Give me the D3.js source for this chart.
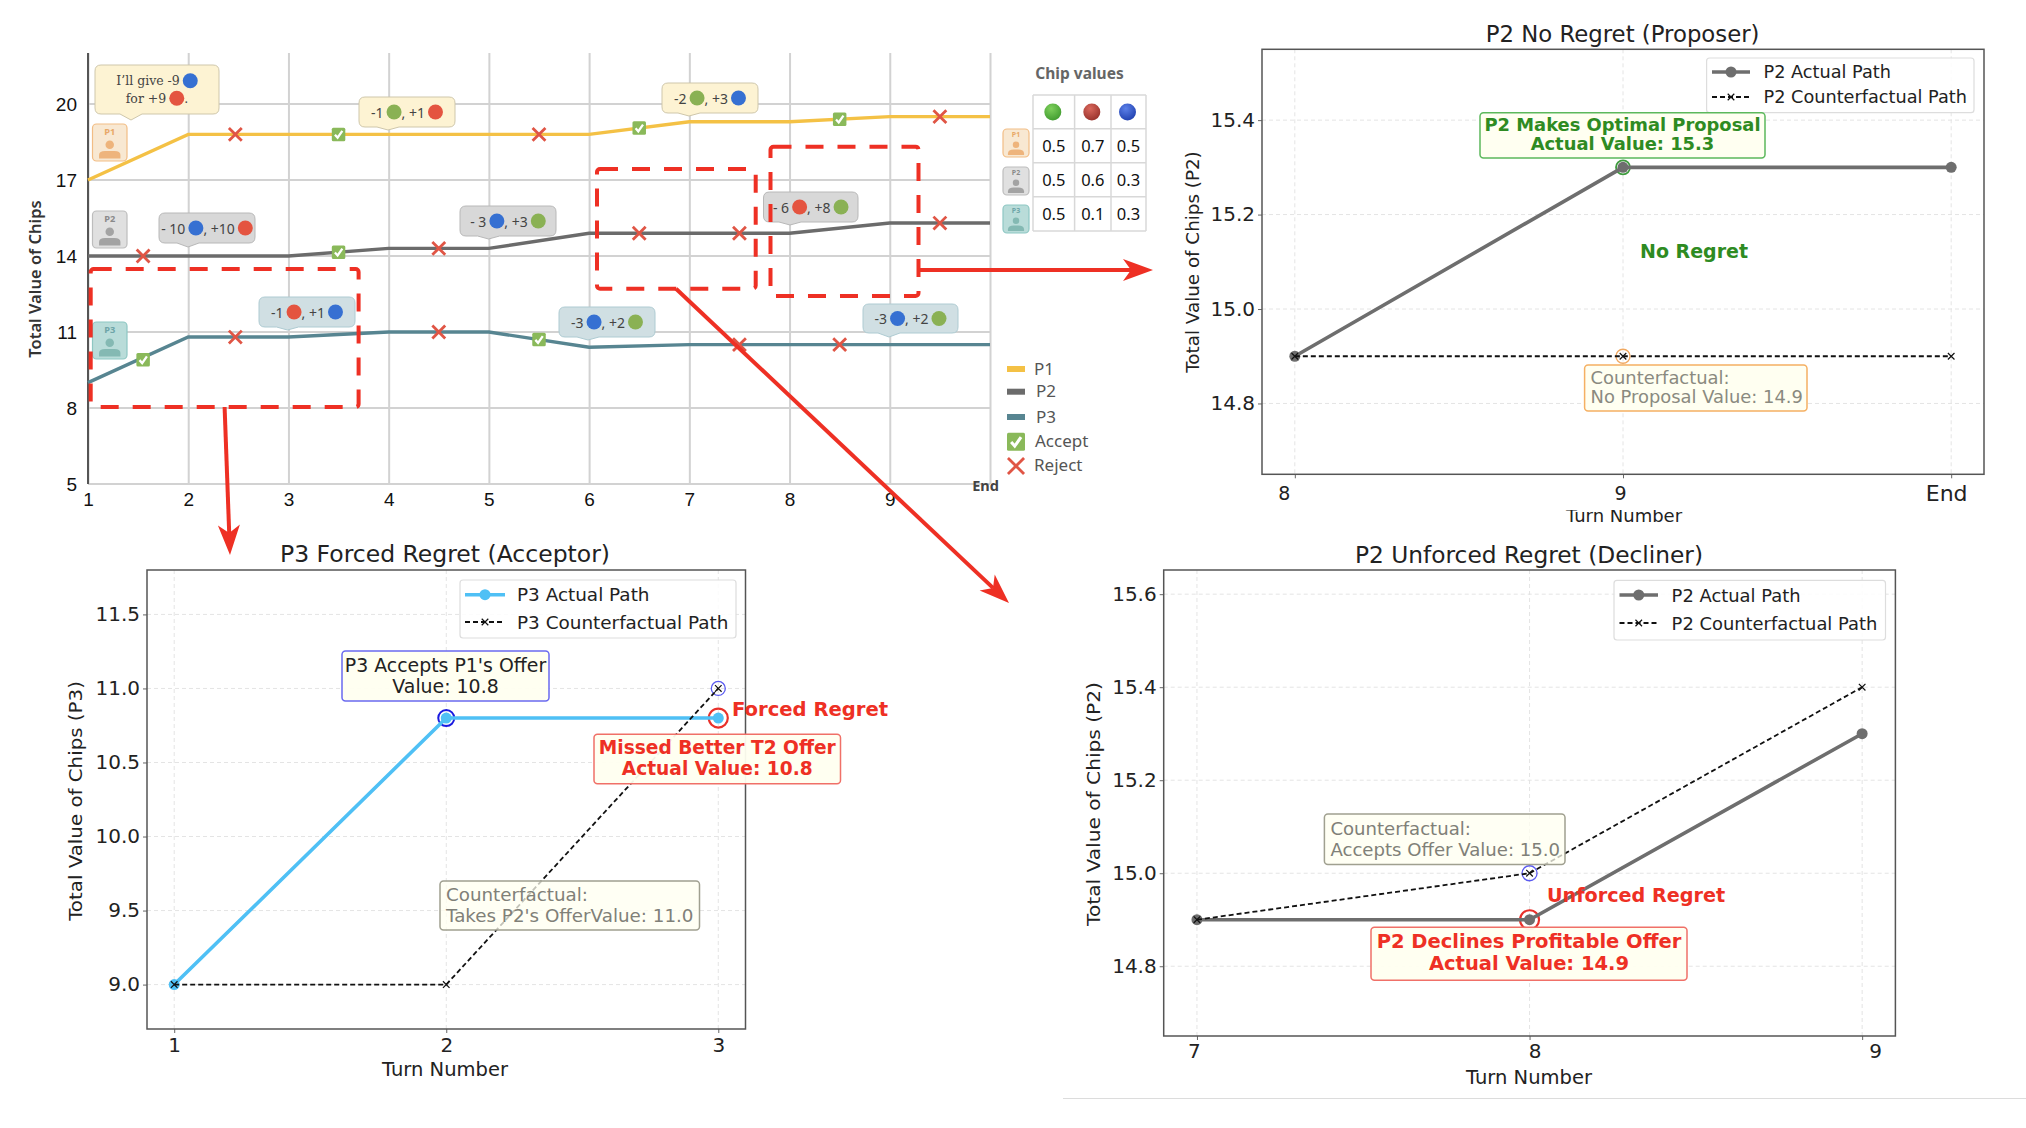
<!DOCTYPE html>
<html>
<head>
<meta charset="utf-8">
<title>Regret chart</title>
<script src="https://cdn.jsdelivr.net/npm/d3@7"></script>
<style>
  html, body { margin: 0; padding: 0; background: #fff; }
  svg { display: block; }
  text { white-space: pre; }
</style>
</head>
<body>
<div id="chart"></div>
<script>
// main chart
const turns = [1, 2, 3, 4, 5, 6, 7, 8, 9, 10];
const turnLabels = ['1', '2', '3', '4', '5', '6', '7', '8', '9', 'End'];
const valueTicks = [5, 8, 11, 14, 17, 20];
const p1Values = [17, 18.8, 18.8, 18.8, 18.8, 18.8, 19.3, 19.3, 19.5, 19.5];
const p2Values = [14, 14, 14, 14.3, 14.3, 14.9, 14.9, 14.9, 15.3, 15.3];
const p3Values = [9, 10.8, 10.8, 11, 11, 10.4, 10.5, 10.5, 10.5, 10.5];
const acceptTurns = [1.55, 3.5, 3.5, 5.5, 6.5, 8.5];
const acceptValues = [9.9, 18.8, 14.15, 10.7, 19.05, 19.4];
const rejectTurns = [1.55, 2.47, 2.47, 4.5, 4.5, 5.5, 6.5, 7.5, 7.5, 8.5, 9.5, 9.5];
const rejectValues = [14, 18.8, 10.8, 14.3, 11, 18.8, 14.9, 14.9, 10.5, 10.5, 19.5, 15.3];

// chip table
const chipPlayers = ['P1', 'P2', 'P3'];
const chipRows = [
  ['0.5', '0.7', '0.5'],
  ['0.5', '0.6', '0.3'],
  ['0.5', '0.1', '0.3']
];

// offers shown in the speech bubbles, g r b = chip
const offerTexts = [
  [['I’ll give -9', 'b'], ['for +9', 'r', '.']],
  [['-1', 'g', ', +1', 'r']],
  [['- 10', 'b', ', +10', 'r']],
  [['- 3', 'b', ', +3', 'g']],
  [['-1', 'r', ', +1', 'b']],
  [['-3', 'b', ', +2', 'g']],
  [['-2', 'g', ', +3', 'b']],
  [['- 6', 'r', ', +8', 'g']],
  [['-3', 'b', ', +2', 'g']]
];

// zoomed panels
const forcedTurns = [1, 2, 3];
const forcedActual = [9, 10.8, 10.8];
const forcedCounter = [9, 9, 11];
const forcedYTicks = [9, 9.5, 10, 10.5, 11, 11.5];

const noRegretTurns = [8, 9, 10];
const noRegretLabels = ['8', '9', 'End'];
const noRegretActual = [14.9, 15.3, 15.3];
const noRegretCounter = [14.9, 14.9, 14.9];
const noRegretYTicks = [14.8, 15, 15.2, 15.4];

const unforcedTurns = [7, 8, 9];
const unforcedActual = [14.9, 14.9, 15.3];
const unforcedCounter = [14.9, 15, 15.4];
const unforcedYTicks = [14.8, 15, 15.2, 15.4, 15.6];

const RED = '#ee3024';
const SANS = '"Noto Sans", sans-serif';
const DEJA = '"DejaVu Sans", sans-serif';
const chipFill = { g: '#8ab154', r: '#e45440', b: '#3670d2' };

const svg = d3.select('#chart').append('svg')
  .attr('width', 2026).attr('height', 1128)
  .attr('viewBox', '0 0 2026 1128');

const defs = svg.append('defs');
[['tg', '#7ed05c', '#3f9a2e'], ['tr', '#d9675c', '#96302a'], ['tb', '#5c80e8', '#1f3fae']].forEach(c => {
  const g = defs.append('radialGradient').attr('id', c[0]).attr('cx', '40%').attr('cy', '30%').attr('r', '75%');
  g.append('stop').attr('offset', '0%').attr('stop-color', c[1]);
  g.append('stop').attr('offset', '100%').attr('stop-color', c[2]);
});

const playerStyle = {
  P1: { fill: '#f8e8d2', stroke: '#f2bd85', ink: '#eeb47c', text: '#e8a868' },
  P2: { fill: '#e0e0e0', stroke: '#bdbdbd', ink: '#a3a3a3', text: '#8a8a8a' },
  P3: { fill: '#b9dcd9', stroke: '#8ec7c3', ink: '#84b9b3', text: '#6ea5a8' }
};

function badge(x0, y0, x1, y1, name) {
  const st = playerStyle[name];
  const w = x1 - x0, h = y1 - y0, cx = (x0 + x1) / 2;
  const g = svg.append('g');
  g.append('rect').attr('x', x0).attr('y', y0).attr('width', w).attr('height', h).attr('rx', 4)
    .attr('fill', st.fill).attr('stroke', st.stroke).attr('stroke-width', 1.2);
  g.append('text').attr('x', cx).attr('y', y0 + h * 0.29).attr('text-anchor', 'middle')
    .attr('font-family', SANS).attr('font-weight', 700).attr('font-size', h * 0.25)
    .attr('fill', st.text).text(name);
  g.append('circle').attr('cx', cx).attr('cy', y0 + h * 0.56).attr('r', h * 0.115).attr('fill', st.ink);
  const sw = w * 0.31, top = y0 + h * 0.73, bot = y0 + h * 0.93;
  g.append('path').attr('fill', st.ink)
    .attr('d', `M${cx - sw},${bot}V${top + 4}Q${cx - sw},${top} ${cx - sw + 6},${top}H${cx + sw - 6}Q${cx + sw},${top} ${cx + sw},${top + 4}V${bot}Z`);
}

function acceptIcon(parent, x, y, s) {
  const g = parent.append('g').attr('transform', `translate(${x},${y})`);
  g.append('rect').attr('x', -s / 2).attr('y', -s / 2).attr('width', s).attr('height', s).attr('rx', 1.5).attr('fill', '#8ab95a');
  g.append('path').attr('fill', 'none').attr('stroke', '#fff').attr('stroke-width', s * 0.17)
    .attr('d', `M${-s * 0.27},${s * 0.02}L${-s * 0.07},${s * 0.24}L${s * 0.28},${-s * 0.26}`);
}

function rejectIcon(parent, x, y, size) {
  parent.append('path')
    .attr('transform', `translate(${x},${y})`)
    .attr('d', d3.symbol(d3.symbolTimes, size)())
    .attr('fill', 'none').attr('stroke', '#e05545').attr('stroke-width', 2.8);
}

// ---- main chart ----
const x = d3.scaleLinear().domain([1, 10]).range([88, 990]);
const y = d3.scaleLinear().domain([5, 20]).range([484, 104]);
const yTopPx = 53;

const main = svg.append('g').attr('class', 'main');

main.append('g').attr('transform', `translate(0,${y(5)})`)
  .call(d3.axisBottom(x).tickValues(turns).tickSize(y(5) - yTopPx).tickFormat(''))
  .call(g => g.select('.domain').remove())
  .call(g => g.selectAll('line').attr('y2', -(y(5) - yTopPx)).attr('stroke', '#d2d2d2').attr('stroke-width', 2));

main.append('g').attr('transform', `translate(${x(1)},0)`)
  .call(d3.axisLeft(y).tickValues(valueTicks).tickSize(0).tickPadding(11))
  .call(g => g.select('.domain').remove())
  .call(g => g.selectAll('text').attr('font-family', '"Liberation Sans", sans-serif').attr('font-size', 19).attr('fill', '#111'));

main.append('g').selectAll('line').data(valueTicks).join('line')
  .attr('x1', x(1)).attr('x2', x(10))
  .attr('y1', d => y(d)).attr('y2', d => y(d))
  .attr('stroke', '#d2d2d2').attr('stroke-width', 2);

main.append('line').attr('x1', x(1)).attr('x2', x(1)).attr('y1', yTopPx).attr('y2', y(5))
  .attr('stroke', '#555').attr('stroke-width', 2);

main.append('g').attr('transform', `translate(0,${y(5)})`)
  .call(d3.axisBottom(x).tickValues(turns).tickSize(0).tickPadding(9)
    .tickFormat((d, i) => turnLabels[i]))
  .call(g => g.select('.domain').remove())
  .call(g => g.selectAll('text').attr('font-family', '"Liberation Sans", sans-serif').attr('font-size', 19).attr('fill', '#111'))
  .call(g => g.selectAll('.tick:last-child text')
    .attr('font-family', SANS).attr('font-weight', 700).attr('font-size', 14.5).attr('fill', '#444').attr('dx', -5).attr('dy', -2));

main.append('text')
  .attr('transform', 'translate(37,279) rotate(-90)')
  .attr('text-anchor', 'middle').attr('dominant-baseline', 'middle')
  .attr('font-family', SANS).attr('font-weight', 600).attr('font-size', 16.5).attr('fill', '#333')
  .text('Total Value of Chips');

const line = d3.line().x((d, i) => x(turns[i])).y(d => y(d));
[[p1Values, '#f4c145'], [p2Values, '#6b6b6b'], [p3Values, '#578591']].forEach(s => {
  main.append('path').datum(s[0]).attr('d', line)
    .attr('fill', 'none').attr('stroke', s[1]).attr('stroke-width', 3.4);
});

acceptTurns.forEach((t, i) => acceptIcon(main, x(t), y(acceptValues[i]), 13.5));
rejectTurns.forEach((t, i) => rejectIcon(main, x(t), y(rejectValues[i]), 110));

// speech bubbles
const bubbleBoxes = [
  [95, 65, 219, 114, 131, 120, 'P1'],
  [359, 97, 455, 127, 388, 130, 'P1'],
  [159, 213, 255, 243, 188, 247, 'P2'],
  [460, 206, 556, 236, 488.6, 239, 'P2'],
  [259, 297, 355, 327, 287.5, 330, 'P3'],
  [559, 307, 655, 337, 588, 340, 'P3'],
  [662, 83, 758, 113, 689, 116, 'P1'],
  [763.5, 192, 858, 222, 790, 225, 'P2'],
  [863, 304, 958, 333, 889, 337, 'P3']
];
const bubbleStyle = {
  P1: ['#fdf3d3', '#cfc7ab'],
  P2: ['#d8d8d8', '#b8b8b8'],
  P3: ['#d0dfe3', '#aecbd2']
};

function bubble(box, rows, serif) {
  const [x0, y0, x1, y1, tx, ty, who] = box;
  const r = 6;
  const g = svg.append('g');
  g.append('path')
    .attr('fill', bubbleStyle[who][0]).attr('stroke', bubbleStyle[who][1]).attr('stroke-width', 1)
    .attr('d', `M${x0 + r},${y0}H${x1 - r}Q${x1},${y0} ${x1},${y0 + r}V${y1 - r}Q${x1},${y1} ${x1 - r},${y1}` +
      `H${tx + 11}L${tx},${ty}L${tx - 11},${y1}H${x0 + r}Q${x0},${y1} ${x0},${y1 - r}V${y0 + r}Q${x0},${y0} ${x0 + r},${y0}Z`);
  const rowH = 17.5;
  const cx = (x0 + x1) / 2, cy = (y0 + y1) / 2;
  rows.forEach((parts, ri) => {
    const rowY = cy + (ri - (rows.length - 1) / 2) * rowH;
    const row = g.append('g');
    let pen = 0;
    parts.forEach((p, pi) => {
      if (chipFill[p]) {
        row.append('circle').attr('cx', pen + 7.5).attr('cy', 0).attr('r', 7.5).attr('fill', chipFill[p]);
        pen += 15;
      } else {
        const t = row.append('text').attr('x', pen).attr('y', 0).attr('dominant-baseline', 'central')
          .attr('font-family', serif ? '"DejaVu Serif", serif' : SANS)
          .attr('font-size', serif ? 12.5 : 14).attr('fill', '#444').text(p);
        pen += t.node().getComputedTextLength();
      }
      if (pi < parts.length - 1 && !(parts[pi + 1] + '').startsWith(',') && parts[pi + 1] !== '.') pen += 3;
    });
    row.attr('transform', `translate(${cx - pen / 2},${rowY})`);
  });
}
offerTexts.forEach((rows, i) => bubble(bubbleBoxes[i], rows, i === 0));

badge(92.5, 124, 127, 161, 'P1');
badge(92.5, 211, 127, 248, 'P2');
badge(92.5, 322, 127, 359, 'P3');

// ---- chip table ----
const colEdges = [1033, 1074.6, 1111, 1146];
const rowEdges = [95, 128.7, 162.7, 196.7, 231];
const table = svg.append('g');
table.append('text').attr('x', 1079.5).attr('y', 75).attr('text-anchor', 'middle')
  .attr('dominant-baseline', 'middle').attr('font-family', SANS).attr('font-weight', 700)
  .attr('font-size', 15.5).attr('fill', '#666').text('Chip values');
colEdges.forEach(c => table.append('line').attr('x1', c).attr('x2', c).attr('y1', rowEdges[0]).attr('y2', rowEdges[4])
  .attr('stroke', '#d8d8d8').attr('stroke-width', 1.5));
rowEdges.forEach(r => table.append('line').attr('y1', r).attr('y2', r).attr('x1', colEdges[0]).attr('x2', colEdges[3])
  .attr('stroke', '#d8d8d8').attr('stroke-width', 1.5));
['tg', 'tr', 'tb'].forEach((id, i) => {
  table.append('circle').attr('cx', (colEdges[i] + colEdges[i + 1]) / 2 - 1).attr('cy', 112).attr('r', 8.5)
    .attr('fill', `url(#${id})`);
});
chipRows.forEach((row, ri) => {
  row.forEach((v, ci) => {
    table.append('text')
      .attr('x', (colEdges[ci] + colEdges[ci + 1]) / 2).attr('y', (rowEdges[ri + 1] + rowEdges[ri + 2]) / 2)
      .attr('text-anchor', 'middle').attr('dominant-baseline', 'central')
      .attr('font-family', SANS).attr('font-size', 16.5).attr('fill', '#111').text(v);
  });
  const yb = [129, 167, 205][ri];
  badge(1003, yb, 1029, yb + 28, chipPlayers[ri]);
});

// ---- main legend ----
const legend = svg.append('g');
[['P1', '#f4c145', 369], ['P2', '#6b6b6b', 391.7], ['P3', '#578591', 417]].forEach(d => {
  legend.append('rect').attr('x', 1007).attr('y', d[2] - 3).attr('width', 18).attr('height', 6).attr('fill', d[1]);
  legend.append('text').attr('x', d[0] === 'P1' ? 1034 : 1036).attr('y', d[2] - 1).attr('dominant-baseline', 'central')
    .attr('font-family', SANS).attr('font-size', 17).attr('fill', '#555').text(d[0]);
});
acceptIcon(legend, 1016, 441.7, 18);
rejectIcon(legend, 1016, 466, 170);
legend.append('text').attr('x', 1035).attr('y', 440).attr('dominant-baseline', 'central')
  .attr('font-family', SANS).attr('font-size', 17).attr('fill', '#555').text('Accept');
legend.append('text').attr('x', 1034).attr('y', 464).attr('dominant-baseline', 'central')
  .attr('font-family', SANS).attr('font-size', 17).attr('fill', '#555').text('Reject');

// ---- panels ----
function panel(o) {
  const g = svg.append('g');
  const px = d3.scaleLinear().domain(o.xDomain).range([o.left, o.right]);
  const py = d3.scaleLinear().domain(o.yDomain).range([o.bottom, o.top]);

  g.append('g').selectAll('line').data(o.turns).join('line')
    .attr('x1', d => px(d)).attr('x2', d => px(d)).attr('y1', o.top).attr('y2', o.bottom)
    .attr('stroke', '#e4e4e4').attr('stroke-dasharray', '4 3');
  g.append('g').selectAll('line').data(o.yTicks).join('line')
    .attr('x1', o.left).attr('x2', o.right).attr('y1', d => py(d)).attr('y2', d => py(d))
    .attr('stroke', '#e4e4e4').attr('stroke-dasharray', '4 3');

  g.append('g').attr('transform', `translate(${o.left},0)`)
    .call(d3.axisLeft(py).tickValues(o.yTicks).tickSize(4).tickPadding(3).tickFormat(d3.format('.1f')))
    .call(a => a.select('.domain').remove())
    .call(a => a.selectAll('line').attr('stroke', '#666'))
    .call(a => a.selectAll('text').attr('font-family', DEJA).attr('font-size', 20).attr('fill', '#222'));

  g.append('g').attr('transform', `translate(0,${o.bottom})`)
    .call(d3.axisBottom(px).tickValues(o.turns).tickSize(4).tickFormat((d, i) => o.labels[i]))
    .call(a => a.select('.domain').remove())
    .call(a => a.selectAll('line').attr('stroke', '#666'))
    .call(a => a.selectAll('text')
      .attr('font-family', DEJA).attr('font-size', (d, i) => o.labelSize ? o.labelSize[i] : 20).attr('fill', '#222')
      .attr('dx', (d, i) => o.labelDx[i]).attr('y', o.labelY).attr('dy', 0)
      .attr('dominant-baseline', 'central'));

  g.append('rect').attr('x', o.left).attr('y', o.top).attr('width', o.right - o.left).attr('height', o.bottom - o.top)
    .attr('fill', 'none').attr('stroke', '#555').attr('stroke-width', 1.5);

  g.append('text').attr('x', o.titleX).attr('y', o.titleY).attr('text-anchor', 'middle')
    .attr('dominant-baseline', 'central').attr('font-family', DEJA).attr('font-size', o.titleSize).attr('fill', '#222').text(o.title);

  g.append('text').attr('x', o.xLabelX).attr('y', o.xLabelY).attr('text-anchor', 'middle')
    .attr('dominant-baseline', 'central').attr('font-family', DEJA).attr('font-size', o.xLabelSize || 19.5).attr('fill', '#222').text('Turn Number');
  // top of the label is cut off in this panel
  if (o.xLabelCut) {
    g.append('rect').attr('x', o.xLabelX - 90).attr('y', o.xLabelCut - 5).attr('width', 180).attr('height', 5).attr('fill', '#fff');
  }

  g.append('text').attr('transform', `translate(${o.yLabelX},${o.yLabelY}) rotate(-90) scale(${o.yLabelStretch},1)`)
    .attr('text-anchor', 'middle').attr('dominant-baseline', 'central')
    .attr('font-family', DEJA).attr('font-size', 16.8).attr('fill', '#222').text(o.yLabel);

  const ln = vals => d3.line().x((d, i) => px(o.turns[i])).y(d => py(d))(vals);

  // rings behind the path markers
  o.rings.forEach(r => {
    g.append('circle').attr('cx', px(r.turn)).attr('cy', py(r.value)).attr('r', r.r)
      .attr('fill', 'none').attr('stroke', r.color).attr('stroke-width', r.w);
  });

  g.append('path').attr('d', ln(o.actual)).attr('fill', 'none').attr('stroke', o.color).attr('stroke-width', 3.6);
  g.append('g').selectAll('circle').data(o.actual).join('circle')
    .attr('cx', (d, i) => px(o.turns[i])).attr('cy', d => py(d)).attr('r', 5.5).attr('fill', o.color);
  g.append('path').attr('d', ln(o.counter)).attr('fill', 'none').attr('stroke', '#111')
    .attr('stroke-width', 1.8).attr('stroke-dasharray', '5 3');
  g.append('g').selectAll('path').data(o.counter).join('path')
    .attr('transform', (d, i) => `translate(${px(o.turns[i])},${py(d)})`)
    .attr('d', d3.symbol(d3.symbolTimes, 30)())
    .attr('fill', 'none').attr('stroke', '#111').attr('stroke-width', 1.2);

  // legend
  const [lx0, ly0, lx1, ly1] = o.legendBox;
  g.append('rect').attr('x', lx0).attr('y', ly0).attr('width', lx1 - lx0).attr('height', ly1 - ly0).attr('rx', 3)
    .attr('fill', '#fff').attr('fill-opacity', 0.85).attr('stroke', '#ddd').attr('stroke-width', 1.2);
  const [s0, s1, tx, r0, r1] = o.legendRows;
  g.append('line').attr('x1', s0).attr('x2', s1).attr('y1', r0).attr('y2', r0).attr('stroke', o.color).attr('stroke-width', 3.6);
  g.append('circle').attr('cx', (s0 + s1) / 2).attr('cy', r0).attr('r', 5.5).attr('fill', o.color);
  g.append('line').attr('x1', s0).attr('x2', s1).attr('y1', r1).attr('y2', r1).attr('stroke', '#111')
    .attr('stroke-width', 1.8).attr('stroke-dasharray', '5 3');
  g.append('path').attr('transform', `translate(${(s0 + s1) / 2},${r1})`).attr('d', d3.symbol(d3.symbolTimes, 30)())
    .attr('fill', 'none').attr('stroke', '#111').attr('stroke-width', 1.2);
  [[o.name + ' Actual Path', r0], [o.name + ' Counterfactual Path', r1]].forEach(d => {
    g.append('text').attr('x', tx).attr('y', d[1]).attr('dominant-baseline', 'central')
      .attr('font-family', DEJA).attr('font-size', o.legendSize).attr('fill', '#222').text(d[0]);
  });

  // annotation boxes
  o.notes.forEach(n => {
    const [x0, y0, x1, y1] = n.box;
    g.append('rect').attr('x', x0).attr('y', y0).attr('width', x1 - x0).attr('height', y1 - y0).attr('rx', 3.5)
      .attr('fill', '#fffff0').attr('fill-opacity', n.alpha || 0.95).attr('stroke', n.stroke).attr('stroke-width', 1.5);
    n.lines.forEach((t, i) => {
      g.append('text').attr('x', n.left ? x0 + 6 : (x0 + x1) / 2).attr('y', n.ys[i])
        .attr('text-anchor', n.left ? 'start' : 'middle').attr('dominant-baseline', 'central')
        .attr('font-family', DEJA).attr('font-size', n.size).attr('font-weight', n.bold ? 700 : 400)
        .attr('fill', n.color).text(t);
    });
  });
  o.tags.forEach(t => {
    g.append('text').attr('x', t.x).attr('y', t.y).attr('dominant-baseline', 'central')
      .attr('font-family', DEJA).attr('font-weight', 700).attr('font-size', t.size).attr('fill', t.color).text(t.text);
  });
}

panel({
  name: 'P3', title: 'P3 Forced Regret (Acceptor)', titleX: 445, titleY: 553.6, titleSize: 23.5,
  left: 147, right: 745.5, top: 570, bottom: 1029,
  xDomain: [0.9, 3.1], yDomain: [8.7, 11.8],
  turns: forcedTurns, labels: ['1', '2', '3'], labelDx: [0, 0, 0], labelY: 16,
  yTicks: forcedYTicks, actual: forcedActual, counter: forcedCounter, color: '#4fc0f5',
  xLabelX: 445, xLabelY: 1069.8, yLabel: 'Total Value of Chips (P3)', yLabelX: 76, yLabelY: 801, yLabelStretch: 1.18,
  legendBox: [460, 580, 736, 638], legendRows: [465, 505, 517, 594.7, 622], legendSize: 18.4,
  rings: [
    { turn: 2, value: 10.8, r: 8, color: '#1a1ae0', w: 2 },
    { turn: 3, value: 10.8, r: 9.5, color: '#e8302a', w: 2.2 },
    { turn: 3, value: 11, r: 7, color: '#5a5af0', w: 1.3 }
  ],
  notes: [
    { box: [342, 651, 549, 701], stroke: '#6a6af0', color: '#222', size: 18.9, lines: ["P3 Accepts P1's Offer", 'Value: 10.8'], ys: [665, 685.6] },
    { box: [594, 734.3, 840.5, 783.7], stroke: '#f07068', color: RED, size: 18.6, bold: true, lines: ['Missed Better T2 Offer', 'Actual Value: 10.8'], ys: [747.4, 768] },
    { box: [440, 881, 699.5, 930], stroke: '#a0a090', color: '#808078', size: 18.3, left: true, alpha: 0.75, lines: ['Counterfactual:', "Takes P2's OfferValue: 11.0"], ys: [894.6, 915.3] }
  ],
  tags: [{ x: 732, y: 709, color: RED, text: 'Forced Regret', size: 19.6 }]
});

panel({
  name: 'P2', title: 'P2 No Regret (Proposer)', titleX: 1622.6, titleY: 34, titleSize: 22.8,
  left: 1262, right: 1984, top: 49.3, bottom: 474.3,
  xDomain: [7.9, 10.1], yDomain: [14.65, 15.55],
  turns: noRegretTurns, labels: noRegretLabels, labelDx: [-11, -3, -5], labelY: 19, labelSize: [19, 19, 22],
  yTicks: noRegretYTicks, actual: noRegretActual, counter: noRegretCounter, color: '#6e6e6e',
  xLabelX: 1624, xLabelY: 515, xLabelSize: 18, xLabelCut: 510, yLabel: 'Total Value of Chips (P2)', yLabelX: 1193, yLabelY: 262, yLabelStretch: 1.09,
  legendBox: [1706.6, 58, 1974, 112.7], legendRows: [1712, 1750, 1763.5, 72, 97], legendSize: 17.7,
  rings: [
    { turn: 9, value: 15.3, r: 7, color: '#3e9a3e', w: 1.8 },
    { turn: 9, value: 14.9, r: 7, color: '#f0a860', w: 1.4 }
  ],
  notes: [
    { box: [1480, 112.7, 1765, 158], stroke: '#5cb85c', color: '#2e8b22', size: 17.9, bold: true, lines: ['P2 Makes Optimal Proposal', 'Actual Value: 15.3'], ys: [124.5, 143.5] },
    { box: [1584.6, 365, 1807, 411], stroke: '#f5b063', color: '#8a8a80', size: 17.9, left: true, lines: ['Counterfactual:', 'No Proposal Value: 14.9'], ys: [377.7, 396.7] }
  ],
  tags: [{ x: 1640, y: 251, color: '#2e8b22', text: 'No Regret', size: 19 }]
});

panel({
  name: 'P2', title: 'P2 Unforced Regret (Decliner)', titleX: 1529, titleY: 554, titleSize: 23.3,
  left: 1163.7, right: 1895.4, top: 570, bottom: 1036,
  xDomain: [6.9, 9.1], yDomain: [14.65, 15.652],
  turns: unforcedTurns, labels: ['7', '8', '9'], labelDx: [-3, 5, 13], labelY: 15,
  yTicks: unforcedYTicks, actual: unforcedActual, counter: unforcedCounter, color: '#6e6e6e',
  xLabelX: 1529, xLabelY: 1077.4, yLabel: 'Total Value of Chips (P2)', yLabelX: 1094, yLabelY: 804, yLabelStretch: 1.2,
  legendBox: [1614, 580.4, 1885.5, 640], legendRows: [1619.5, 1658, 1671.6, 595, 623], legendSize: 17.9,
  rings: [
    { turn: 8, value: 15, r: 7.5, color: '#5a5af0', w: 1.3 },
    { turn: 8, value: 14.9, r: 9.5, color: '#e8302a', w: 2.2 }
  ],
  notes: [
    { box: [1324.4, 814, 1565, 864.5], stroke: '#a0a090', color: '#808078', size: 18.1, left: true, alpha: 0.75, lines: ['Counterfactual:', 'Accepts Offer Value: 15.0'], ys: [828.3, 849.4] },
    { box: [1371, 927.3, 1687, 980.3], stroke: '#f07068', color: RED, size: 19.5, bold: true, lines: ['P2 Declines Profitable Offer', 'Actual Value: 14.9'], ys: [941.2, 963.4] }
  ],
  tags: [{ x: 1547, y: 895, color: RED, text: 'Unforced Regret', size: 19.2 }]
});

svg.append('line').attr('x1', 1063).attr('x2', 2026).attr('y1', 1098.5).attr('y2', 1098.5)
  .attr('stroke', '#dcdcdc').attr('stroke-width', 1.2);

// ---- red callouts ----
const callouts = svg.append('g');
[[90.7, 269, 358.6, 407], [597, 169, 755.7, 288.7], [770.5, 146.7, 918.5, 296]].forEach(r => {
  callouts.append('rect').attr('x', r[0]).attr('y', r[1]).attr('width', r[2] - r[0]).attr('height', r[3] - r[1]).attr('rx', 3)
    .attr('fill', 'none').attr('stroke', RED).attr('stroke-width', 4).attr('stroke-dasharray', '18 14');
});

function arrow(x1, y1, x2, y2) {
  const a = Math.atan2(y2 - y1, x2 - x1);
  const len = 30, half = 11, notch = 22;
  const bx = x2 - notch * Math.cos(a), by = y2 - notch * Math.sin(a);
  callouts.append('line').attr('x1', x1).attr('y1', y1).attr('x2', bx).attr('y2', by)
    .attr('stroke', RED).attr('stroke-width', 4);
  const cx = x2 - len * Math.cos(a), cy = y2 - len * Math.sin(a);
  const nx = -Math.sin(a) * half, ny = Math.cos(a) * half;
  callouts.append('path').attr('fill', RED)
    .attr('d', `M${x2},${y2}L${cx + nx},${cy + ny}L${bx},${by}L${cx - nx},${cy - ny}Z`);
}
arrow(918.5, 270, 1153, 270);
arrow(676, 288.7, 1009, 603);
arrow(224.6, 407, 230, 555);
</script>
</body>
</html>
